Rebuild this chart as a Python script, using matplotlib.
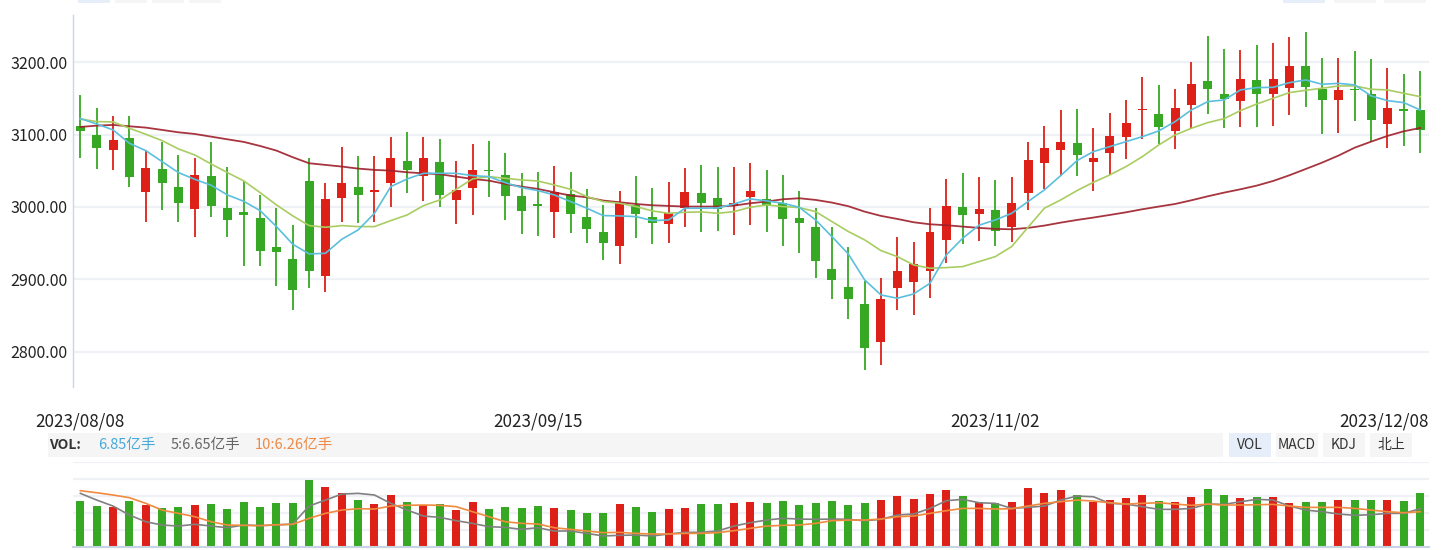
import numpy as np
import matplotlib.pyplot as plt
from matplotlib.patches import Rectangle

plt.rcParams['font.family'] = ['Noto Sans CJK SC', 'DejaVu Sans']

# daily candles, 2023/08/08 - 2023/12/08
opens = [3111.5, 3099.5, 3079.3, 3095.4, 3021.2, 3052.5, 3027.6, 2997.7, 3042.9, 2998.6,
         2993.0, 2984.8, 2944.7, 2928.1, 3036.0, 2905.1, 3012.9, 3027.6, 3021.3, 3033.2,
         3063.6, 3043.3, 3062.2, 3010.1, 3026.7, 3050.5, 3044.2, 3015.2, 3002.4, 2993.5,
         3018.0, 2986.2, 2965.4, 2946.5, 3002.8, 2986.2, 2977.0, 2999.1, 3019.4, 3012.4,
         3001.8, 3014.3, 3011.1, 3005.5, 2984.8, 2972.4, 2914.3, 2889.4, 2865.9, 2813.8,
         2888.5, 2896.8, 2912.0, 2954.8, 3000.0, 2990.8, 2995.9, 2972.8, 3019.8, 3061.3,
         3079.3, 3088.5, 3062.7, 3075.1, 3097.2, 3133.6, 3128.6, 3105.5, 3141.5, 3174.2,
         3156.2, 3147.0, 3175.6, 3156.7, 3165.0, 3194.9, 3163.1, 3148.4, 3162.7, 3156.2,
         3115.2, 3134.1, 3134.1]
highs = [3154.8, 3136.9, 3125.8, 3125.8, 3078.8, 3090.3, 3071.9, 3067.7, 3089.4, 3055.3,
         3036.0, 3016.6, 2998.6, 2975.1, 3067.3, 3033.2, 3082.9, 3070.5, 3070.5, 3096.8,
         3103.7, 3096.8, 3094.0, 3063.6, 3087.1, 3091.2, 3074.7, 3047.0, 3048.4, 3056.7,
         3048.4, 3024.9, 3002.8, 3022.1, 3042.9, 3026.3, 3034.6, 3053.9, 3058.1, 3055.3,
         3055.3, 3060.8, 3051.2, 3044.2, 3022.1, 2998.6, 2972.4, 2944.7, 2898.2, 2901.7,
         2958.5, 2951.6, 2998.6, 3038.7, 3047.0, 3041.5, 3037.3, 3041.5, 3089.9, 3112.0,
         3134.1, 3135.5, 3109.2, 3130.0, 3147.9, 3179.7, 3168.7, 3163.1, 3200.5, 3236.4,
         3218.4, 3217.1, 3224.0, 3226.7, 3235.0, 3241.9, 3206.0, 3206.0, 3215.7, 3204.6,
         3192.2, 3183.9, 3188.0]
lows = [3068.2, 3052.5, 3051.2, 3028.1, 2979.7, 2995.9, 2979.7, 2959.0, 2986.6, 2959.0,
        2918.9, 2918.9, 2891.2, 2858.1, 2888.5, 2882.9, 2979.7, 2978.3, 2979.7, 3000.5,
        3019.8, 3008.8, 3000.5, 2977.0, 2989.4, 3014.3, 2982.5, 2963.1, 2960.4, 2957.6,
        2964.5, 2950.7, 2927.2, 2921.7, 2957.6, 2949.3, 2950.7, 2972.8, 2965.9, 2967.3,
        2961.8, 2975.6, 2965.9, 2946.5, 2936.9, 2902.3, 2873.3, 2845.6, 2775.1, 2782.0,
        2858.1, 2851.2, 2874.7, 2923.0, 2949.3, 2953.5, 2946.5, 2952.1, 2996.3, 3024.9,
        3042.4, 3043.3, 3022.6, 3044.2, 3066.8, 3094.5, 3087.1, 3080.6, 3108.3, 3129.0,
        3109.7, 3111.1, 3111.1, 3112.4, 3127.6, 3138.7, 3101.4, 3102.8, 3119.4, 3090.3,
        3082.0, 3084.8, 3075.1]
closes = [3105.5, 3082.0, 3092.6, 3041.9, 3053.9, 3033.6, 3006.0, 3044.2, 3001.8, 2982.5,
          2989.4, 2939.6, 2938.2, 2885.7, 2912.0, 3011.1, 3033.2, 3017.0, 3022.0, 3067.7,
          3051.2, 3067.7, 3017.0, 3023.5, 3051.2, 3049.5, 3015.7, 2994.9, 3001.6, 3020.3,
          2990.8, 2970.0, 2950.7, 3005.5, 2990.8, 2978.3, 2991.7, 3020.7, 3006.0, 2997.7,
          3005.5, 3022.1, 3001.8, 2983.9, 2978.3, 2925.8, 2899.5, 2873.3, 2805.5, 2872.8,
          2911.5, 2921.2, 2965.4, 3001.4, 2989.4, 2997.2, 2967.3, 3005.5, 3065.0, 3081.6,
          3089.9, 3072.4, 3067.7, 3098.2, 3116.1, 3135.0, 3111.1, 3136.9, 3170.0, 3163.6,
          3149.3, 3177.0, 3156.7, 3177.0, 3194.9, 3166.4, 3148.4, 3161.8, 3161.3, 3120.7,
          3136.9, 3133.2, 3106.9]

# moving averages as drawn on the chart
ma5 = [3122.1, 3114.7, 3106.5, 3088.0, 3077.9, 3062.7, 3047.5, 3038.2, 3030.0, 3016.6,
       3007.8, 2994.9, 2972.8, 2948.4, 2935.0, 2935.9, 2955.3, 2968.2, 2991.2, 3028.1,
       3038.7, 3046.5, 3046.5, 3046.5, 3043.3, 3041.9, 3033.6, 3026.7, 3022.6, 3016.6,
       3007.4, 2998.2, 2988.0, 2987.6, 2986.6, 2981.1, 2982.0, 2998.2, 2998.2, 2998.6,
       3004.1, 3011.1, 3008.3, 3005.1, 2999.5, 2982.0, 2958.9, 2935.0, 2899.1, 2878.3,
       2873.7, 2879.7, 2894.5, 2933.6, 2956.7, 2974.7, 2982.0, 2991.2, 3007.4, 3023.5,
       3043.3, 3064.1, 3076.5, 3083.4, 3090.3, 3097.2, 3105.1, 3118.0, 3134.1, 3145.6,
       3147.9, 3161.8, 3165.0, 3165.4, 3171.9, 3175.6, 3169.6, 3170.9, 3168.7, 3153.5,
       3147.0, 3144.2, 3134.1]
ma10 = [3121.7, 3118.0, 3117.5, 3108.8, 3100.5, 3091.7, 3080.2, 3071.9, 3059.4, 3047.5,
        3036.0, 3019.8, 3002.8, 2987.6, 2974.2, 2971.9, 2974.2, 2972.8, 2972.8, 2981.1,
        2988.9, 3001.8, 3009.7, 3024.4, 3038.7, 3041.9, 3039.6, 3037.3, 3035.9, 3030.4,
        3024.4, 3014.3, 3007.4, 3005.1, 3000.5, 2994.5, 2991.2, 2992.6, 2993.1, 2991.2,
        2993.5, 2999.5, 3002.8, 3000.5, 2999.1, 2993.5, 2979.7, 2966.0, 2954.4, 2939.6,
        2931.3, 2919.8, 2915.2, 2916.1, 2917.5, 2924.4, 2931.3, 2945.2, 2971.9, 2998.2,
        3009.7, 3022.6, 3034.1, 3044.2, 3055.8, 3069.6, 3085.7, 3099.5, 3108.8, 3116.6,
        3122.1, 3133.2, 3142.4, 3150.2, 3158.1, 3161.3, 3164.1, 3167.3, 3167.3, 3162.7,
        3161.8, 3157.1, 3152.5]
ma30 = [3110.6, 3112.4, 3113.4, 3111.5, 3109.7, 3106.5, 3103.2, 3100.9, 3097.2, 3093.5,
        3089.9, 3084.3, 3077.9, 3068.7, 3060.4, 3058.1, 3055.8, 3053.0, 3051.2, 3050.2,
        3047.9, 3046.5, 3045.2, 3041.9, 3038.7, 3036.4, 3031.8, 3028.1, 3024.9, 3020.3,
        3015.7, 3013.4, 3008.8, 3006.5, 3004.1, 3002.3, 3001.4, 3000.5, 3000.5, 3000.5,
        3001.8, 3005.1, 3007.4, 3010.6, 3012.0, 3009.7, 3006.0, 3001.0, 2993.5, 2987.6,
        2983.4, 2978.8, 2976.0, 2974.7, 2972.8, 2971.0, 2969.6, 2969.1, 2971.0, 2974.2,
        2978.3, 2982.0, 2985.3, 2988.9, 2992.6, 2996.8, 3000.5, 3004.1, 3009.2, 3014.7,
        3019.8, 3024.4, 3029.5, 3035.9, 3043.8, 3052.5, 3061.3, 3071.0, 3082.0, 3090.3,
        3098.2, 3104.6, 3109.2]

# volume (亿手) and its averages as drawn
volume = [5.83, 5.20, 5.07, 5.83, 5.33, 4.95, 5.07, 5.33, 5.45, 4.82,
          5.71, 5.07, 5.58, 5.58, 8.50, 7.61, 6.85, 5.96, 5.45, 6.60,
          5.71, 5.33, 5.45, 4.69, 5.71, 4.82, 5.07, 4.95, 5.20, 4.95,
          4.69, 4.31, 4.31, 5.45, 5.07, 4.44, 4.82, 4.95, 5.45, 5.45,
          5.58, 5.71, 5.58, 5.83, 5.33, 5.58, 5.83, 5.33, 5.58, 5.96,
          6.47, 6.09, 6.72, 7.23, 6.47, 5.71, 5.58, 5.71, 7.48, 6.85,
          7.23, 6.60, 5.71, 5.96, 6.22, 6.60, 5.83, 5.71, 6.34, 7.36,
          6.60, 6.22, 6.34, 6.34, 5.58, 5.71, 5.71, 5.96, 5.96, 5.96,
          5.96, 5.83, 6.85]
vol_ma5 = [6.81, 5.96, 5.20, 4.06, 3.21, 2.79, 2.66, 2.88, 2.66, 2.45,
           2.79, 2.71, 2.79, 2.92, 5.20, 5.96, 6.72, 6.81, 6.60, 5.54,
           4.69, 3.93, 3.76, 3.34, 3.00, 2.58, 2.49, 2.24, 2.45, 2.03,
           2.03, 1.73, 1.40, 1.48, 1.52, 1.40, 1.65, 1.86, 1.86, 2.03,
           2.66, 3.09, 3.42, 3.64, 3.55, 3.51, 3.55, 3.51, 3.34, 3.51,
           4.06, 4.19, 4.90, 5.88, 6.05, 5.62, 5.54, 4.90, 5.03, 5.20,
           5.96, 6.47, 6.38, 5.54, 5.45, 5.12, 4.78, 4.78, 4.90, 5.45,
           5.41, 5.75, 6.05, 5.96, 5.20, 4.69, 4.48, 4.19, 4.02, 4.10,
           4.27, 4.27, 4.86]
vol_ma10 = [7.15, 6.89, 6.60, 6.26, 5.54, 4.69, 4.27, 3.85, 3.21, 2.79,
            2.75, 2.71, 2.83, 2.88, 3.64, 4.27, 4.69, 4.86, 4.82, 5.20,
            5.29, 5.33, 5.29, 5.12, 4.48, 3.85, 3.21, 3.00, 2.92, 2.45,
            2.24, 2.03, 1.82, 1.86, 1.73, 1.65, 1.65, 1.73, 1.73, 1.82,
            2.07, 2.37, 2.66, 2.75, 2.79, 3.00, 3.34, 3.42, 3.42, 3.55,
            3.85, 3.93, 4.27, 4.61, 4.90, 4.90, 4.82, 4.86, 5.20, 5.54,
            5.75, 5.96, 5.83, 5.62, 5.45, 5.54, 5.62, 5.45, 5.29, 5.45,
            5.33, 5.33, 5.37, 5.41, 5.20, 5.03, 5.03, 5.03, 4.90, 4.69,
            4.48, 4.35, 4.48]

tick_idx = [0, 28, 56, 82]
tick_labels = ['2023/08/08', '2023/09/15', '2023/11/02', '2023/12/08']
price_ticks = [2800, 2900, 3000, 3100, 3200]

RED = '#dd2118'
GREEN = '#37a823'

W, H = 1443, 550
fig = plt.figure(figsize=(W / 100, H / 100), dpi=100)


def box(l, t, r, b):
    return [l / W, 1 - b / H, (r - l) / W, (b - t) / H]


def rect(l, t, r, b, color):
    fig.add_artist(Rectangle((l / W, 1 - b / H), (r - l) / W, (b - t) / H,
                             transform=fig.transFigure, color=color, lw=0, zorder=0))


x = np.arange(len(closes))
o = np.array(opens)
c = np.array(closes)
colors = np.where(c >= o, RED, GREEN)

# price panel
ax = fig.add_axes(box(72.7, 15, 1428.5, 387))
ax.set_xlim(-0.47, 82.51)
ax.set_ylim(2751, 3265.4)
for p in price_ticks:
    ax.axhline(p, color='#eef1f5', lw=1.6, zorder=0)
ax.vlines(x, lows, highs, colors=colors, lw=1.3, zorder=2)
ax.bar(x, np.maximum(np.abs(c - o), 2.2), bottom=np.minimum(o, c), width=0.55,
       color=colors, linewidth=0, zorder=3)
ax.plot(x, ma30, color='#9e1f2a', lw=1.3, alpha=0.9, zorder=4)
ax.plot(x, ma10, color='#a9cd61', lw=1.2, zorder=4)
ax.plot(x, ma5, color='#5bbfdd', lw=1.2, zorder=4)

ax.set_yticks(price_ticks)
ax.set_yticklabels(['%.2f' % p for p in price_ticks], fontsize=11.5, color='#222')
ax.tick_params(axis='y', length=0, pad=4)
ax.set_xticks([])
for s in ['top', 'right', 'bottom']:
    ax.spines[s].set_visible(False)
ax.spines['left'].set_color('#c6d6ec')
ax.spines['left'].set_linewidth(1.0)

for i, lab in zip(tick_idx[:-1], tick_labels[:-1]):
    ax.annotate(lab, xy=(i, 0), xycoords=('data', 'axes fraction'), xytext=(0, -35),
                textcoords='offset pixels', ha='center', va='center', fontsize=12.3, color='#222')
ax.annotate(tick_labels[-1], xy=(1, 0), xycoords='axes fraction', xytext=(0, -35),
            textcoords='offset pixels', ha='right', va='center', fontsize=12.3, color='#222')

# volume panel
axv = fig.add_axes(box(72.7, 461.7, 1428.5, 547))
axv.set_xlim(-0.47, 82.51)
axv.set_ylim(0, 10.83)
for g in np.linspace(0, 10.83, 6)[1:]:
    axv.axhline(g, color='#eef1f5', lw=1.6, zorder=0)
axv.bar(x, volume, width=0.49, color=colors, linewidth=0, zorder=2)
axv.plot(x, vol_ma5, color='#808080', lw=1.2, zorder=3)
axv.plot(x, vol_ma10, color='#f08a3e', lw=1.2, zorder=3)
axv.set_xticks([])
axv.set_yticks([])
for s in ['top', 'right', 'left']:
    axv.spines[s].set_visible(False)
axv.spines['bottom'].set_color('#c8d3e3')
axv.spines['bottom'].set_linewidth(1.5)

# VOL info bar and indicator buttons
rect(48, 433, 1223, 457, '#f5f5f5')
fig.text(49 / W, 1 - 445 / H, 'VOL:', fontsize=10, weight='bold', color='#333', va='center')
fig.text(98 / W, 1 - 445 / H, '6.85亿手', fontsize=10.5, color='#47a9d9', va='center')
fig.text(171 / W, 1 - 445 / H, '5:6.65亿手', fontsize=10.5, color='#666666', va='center')
fig.text(255 / W, 1 - 445 / H, '10:6.26亿手', fontsize=10.5, color='#ee8a45', va='center')

buttons = ['VOL', 'MACD', 'KDJ', '北上']
for k, name in enumerate(buttons):
    l = 1229 + k * 47
    rect(l, 433, l + 42, 457, '#e5eef9' if k == 0 else '#f5f5f5')
    fig.text((l + 21) / W, 1 - 445 / H, name, fontsize=10, color='#333', ha='center', va='center')

# cut-off buttons at the very top
for k, l in enumerate([78, 115, 152, 189]):
    rect(l, 0, l + 32, 2.5, '#e5eef9' if k == 0 else '#f5f5f5')
for k, l in enumerate([1283, 1334, 1384]):
    rect(l, 0, l + 42, 2.5, '#e5eef9' if k == 0 else '#f5f5f5')

fig.savefig('out.png', dpi=100)
